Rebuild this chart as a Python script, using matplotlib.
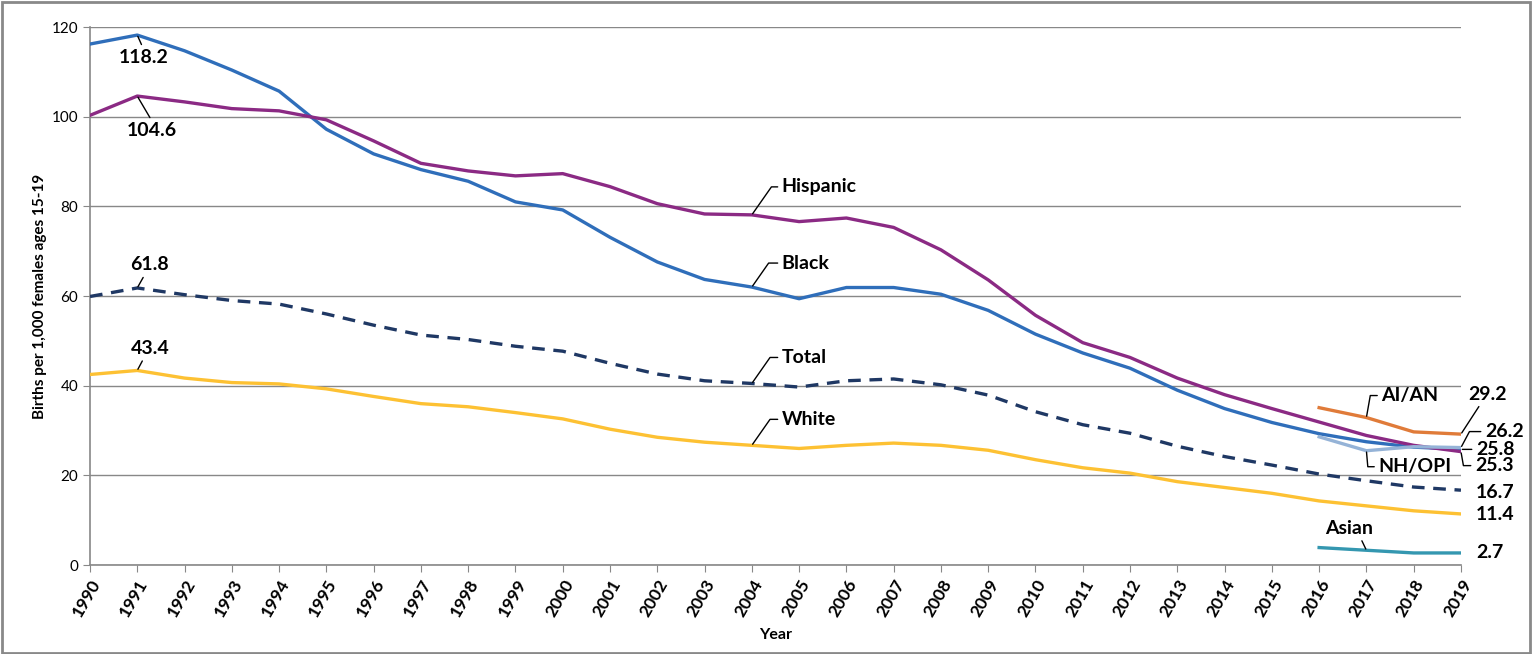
import matplotlib.pyplot as plt
from matplotlib.patches import Rectangle

plt.rcParams['font.family'] = ['Lato', 'DejaVu Sans']

# Andmed: sünnid 1000 naise kohta vanuses 15-19
years = list(range(1990, 2020))
black = [116.2, 118.2, 114.7, 110.4, 105.7, 97.2, 91.7, 88.2, 85.6, 81.0,
         79.2, 73.1, 67.6, 63.7, 62.0, 59.4, 61.9, 61.9, 60.4, 56.8,
         51.5, 47.3, 43.9, 39.0, 34.9, 31.8, 29.3, 27.5, 26.3, 25.8]
hispanic = [100.3, 104.6, 103.3, 101.8, 101.3, 99.3, 94.6, 89.6, 87.9, 86.8,
            87.3, 84.4, 80.6, 78.3, 78.1, 76.6, 77.4, 75.3, 70.3, 63.6,
            55.7, 49.6, 46.3, 41.7, 38.0, 34.9, 31.9, 28.9, 26.7, 25.3]
total = [59.9, 61.8, 60.3, 59.0, 58.2, 56.0, 53.5, 51.3, 50.3, 48.8,
         47.7, 45.0, 42.6, 41.1, 40.5, 39.7, 41.1, 41.5, 40.2, 37.9,
         34.2, 31.3, 29.4, 26.5, 24.2, 22.3, 20.3, 18.8, 17.4, 16.7]
white = [42.5, 43.4, 41.7, 40.7, 40.4, 39.3, 37.6, 36.0, 35.3, 34.0,
         32.6, 30.3, 28.5, 27.4, 26.7, 26.0, 26.7, 27.2, 26.7, 25.6,
         23.5, 21.7, 20.5, 18.6, 17.3, 16.0, 14.3, 13.2, 12.1, 11.4]
years_new = [2016, 2017, 2018, 2019]
aian = [35.1, 32.9, 29.7, 29.2]
nhopi = [28.6, 25.5, 26.4, 26.2]
asian = [3.9, 3.3, 2.7, 2.7]

c_black = '#2F6EBA'
c_hisp = '#8B2A84'
c_total = '#1F3864'
c_white = '#FDC133'
c_aian = '#E07B39'
c_nhopi = '#95B3D7'
c_asian = '#3497B0'

fig = plt.figure(figsize=(15.33, 6.54), dpi=100)
ax = fig.add_axes([0.0587, 0.136, 0.8943, 0.8227])

lw = 2.4
ax.plot(years, white, color=c_white, lw=lw, zorder=3)
ax.plot(years, total, color=c_total, lw=lw, ls=(0, (3.8, 2.6)), zorder=3)
ax.plot(years, black, color=c_black, lw=lw, zorder=4)
ax.plot(years, hispanic, color=c_hisp, lw=lw, zorder=4)
ax.plot(years_new, aian, color=c_aian, lw=lw, zorder=4)
ax.plot(years_new, asian, color=c_asian, lw=lw, zorder=4)
ax.plot(years_new, nhopi, color=c_nhopi, lw=lw, zorder=5)

ax.set_xlim(1990, 2019)
ax.set_ylim(0, 120)
ax.set_yticks(range(0, 121, 20))
ax.set_xticks(years)
ax.set_xticklabels([str(y) for y in years], rotation=60, ha='right',
                   rotation_mode='anchor', fontweight='bold', fontsize=12.5)
ax.tick_params(axis='y', labelsize=11, colors='#888888', labelcolor='black',
               direction='out', length=5)
ax.tick_params(axis='x', colors='#888888', labelcolor='black',
               direction='out', length=5)
ax.yaxis.grid(True, color='#888888', lw=1)
ax.set_axisbelow(True)
for s in ['top', 'right']:
    ax.spines[s].set_visible(False)
for s in ['left', 'bottom']:
    ax.spines[s].set_color('#888888')
    ax.spines[s].set_linewidth(1.2)

ax.set_xlabel('Year', fontweight='bold', fontsize=11.5, labelpad=6)
ax.set_ylabel('Births per 1,000 females ages 15-19', fontweight='bold',
              fontsize=11)
ax.yaxis.set_label_coords(-0.031, 0.5)

lbl = dict(fontsize=14, fontweight='bold', color='black',
           textcoords='offset pixels', zorder=6)


def leader(rel, conn='arc3'):
    return dict(arrowstyle='-', color='black', lw=1, relpos=rel,
                shrinkA=1, shrinkB=1, connectionstyle=conn)


# vasakpoolsed väärtused 1991
i91 = years.index(1991)
ax.annotate(f'{black[i91]:.1f}', xy=(1991, black[i91]), xytext=(6, -22),
            ha='center', va='center', arrowprops=leader((0.5, 1)), **lbl)
ax.annotate(f'{hispanic[i91]:.1f}', xy=(1991, hispanic[i91]), xytext=(15, -34),
            ha='center', va='center', arrowprops=leader((0.5, 1)), **lbl)
ax.annotate(f'{total[i91]:.1f}', xy=(1991, total[i91]), xytext=(12, 23),
            ha='center', va='center', arrowprops=leader((0.4, 0)), **lbl)
ax.annotate(f'{white[i91]:.1f}', xy=(1991, white[i91]), xytext=(13, 22),
            ha='center', va='center', arrowprops=leader((0.35, 0)), **lbl)

# seeriate nimed 2004 juures
i04 = years.index(2004)
elbow = 'angle,angleA=0,angleB=55,rad=0'
for name, series, dy in [('Hispanic', hispanic, 28), ('Black', black, 24),
                         ('Total', total, 26), ('White', white, 26)]:
    ax.annotate(name, xy=(2004, series[i04]), xytext=(30, dy), ha='left',
                va='center', arrowprops=leader((0, 0.5), elbow), **lbl)

# uued seeriad
ax.annotate('AI/AN', xy=(2017, aian[1]), xytext=(15, 22), ha='left',
            va='center', arrowprops=leader((0, 0.5), 'angle,angleA=0,angleB=80,rad=0'),
            **lbl)
ax.annotate('NH/OPI', xy=(2017, nhopi[1]), xytext=(12, -16), ha='left',
            va='center', arrowprops=leader((0, 0.5), 'angle,angleA=0,angleB=-85,rad=0'),
            **lbl)
ax.annotate('Asian', xy=(2017, asian[1]), xytext=(-17, 22), ha='center',
            va='center', arrowprops=leader((0.72, 0)), **lbl)

# lõppväärtused 2019
ax.annotate(f'{aian[-1]:.1f}', xy=(2019, aian[-1]), xytext=(7, 40), ha='left',
            va='center', arrowprops=leader((0.35, 0)), **lbl)
ax.annotate(f'{nhopi[-1]:.1f}', xy=(2019, nhopi[-1]), xytext=(24, 16), ha='left',
            va='center', arrowprops=leader((0, 0.5), 'angle,angleA=0,angleB=62,rad=0'),
            **lbl)
ax.annotate(f'{black[-1]:.1f}', xy=(2019, black[-1]), xytext=(15, 0), ha='left',
            va='center', arrowprops=leader((0, 0.5)), **lbl)
ax.annotate(f'{hispanic[-1]:.1f}', xy=(2019, hispanic[-1]), xytext=(14, -14),
            ha='left', va='center',
            arrowprops=leader((0, 0.5), 'angle,angleA=0,angleB=-80,rad=0'), **lbl)
ax.annotate(f'{total[-1]:.1f}', xy=(2019, total[-1]), xytext=(15, -2),
            ha='left', va='center', **lbl)
ax.annotate(f'{white[-1]:.1f}', xy=(2019, white[-1]), xytext=(15, -1),
            ha='left', va='center', **lbl)
ax.annotate(f'{asian[-1]:.1f}', xy=(2019, asian[-1]), xytext=(15, 0),
            ha='left', va='center', **lbl)

fig.patches.append(Rectangle((0.001, 0.002), 0.997, 0.995, transform=fig.transFigure,
                             fill=False, edgecolor='#898989', lw=2))

fig.savefig('out.png', dpi=100)
